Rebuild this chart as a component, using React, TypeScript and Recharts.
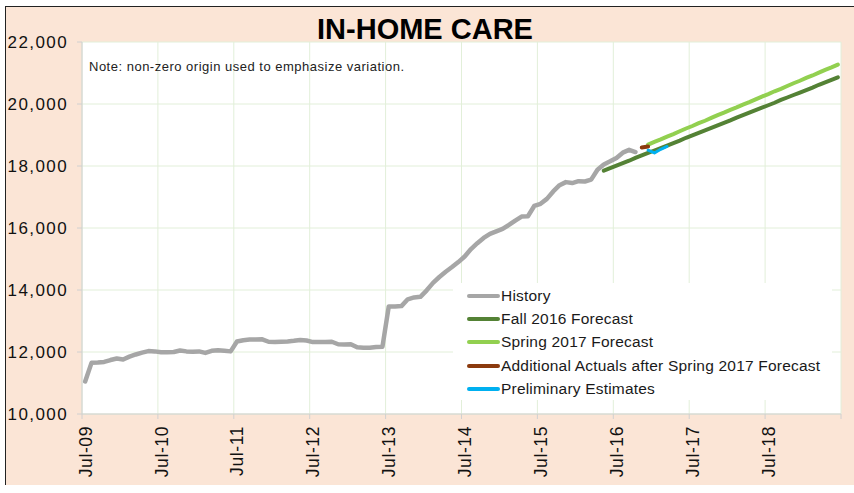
import { LineChart, Line, XAxis, YAxis, CartesianGrid, Legend } from 'recharts'

const FONT = '"Liberation Sans", Arial, sans-serif'

const yTicks = [10000, 12000, 14000, 16000, 18000, 20000, 22000]
const xTickLabels = ['Jul-09', 'Jul-10', 'Jul-11', 'Jul-12', 'Jul-13', 'Jul-14', 'Jul-15', 'Jul-16', 'Jul-17', 'Jul-18', '']
const xTicks = xTickLabels.map((_, i) => i * 12)

const seriesNames = [
  'History',
  'Fall 2016 Forecast',
  'Spring 2017 Forecast',
  'Additional Actuals after Spring 2017 Forecast',
  'Preliminary Estimates',
]

// monthly values, index 0 = Jul-09
const historyStart = 0
const history = [
  11050, 11650, 11660, 11680, 11740, 11790, 11760, 11850, 11920, 11980, 12030, 12020,
  11990, 11990, 12000, 12050, 12020, 12010, 12020, 11970, 12040, 12060, 12040, 12020,
  12340, 12380, 12400, 12400, 12410, 12330, 12320, 12330, 12340, 12360, 12390, 12370,
  12320, 12320, 12320, 12330, 12250, 12240, 12250, 12150, 12140, 12140, 12160, 12170,
  13470, 13470, 13480, 13700, 13760, 13780, 13990, 14230, 14420, 14590, 14740, 14900,
  15080, 15320, 15510, 15680, 15810, 15890, 15970, 16100, 16240, 16370, 16380, 16710,
  16780, 16940, 17180, 17380, 17480, 17450, 17510, 17500, 17560, 17880, 18050, 18150,
  18260, 18430, 18520, 18450,
]

const fallStart = 82
const fall2016 = [
  17850, 17930, 18010, 18090, 18170, 18260, 18340, 18420, 18500, 18580, 18660, 18740,
  18820, 18910, 18990, 19070, 19150, 19230, 19310, 19390, 19470, 19560, 19640, 19720,
  19800, 19880, 19960, 20040, 20130, 20210, 20290, 20370, 20450, 20530, 20620, 20700,
  20780, 20860,
]

const springStart = 89
const spring2017 = [
  18690, 18780, 18860, 18950, 19030, 19120, 19210, 19290, 19380, 19460, 19550, 19640,
  19720, 19810, 19890, 19980, 20060, 20150, 20240, 20320, 20410, 20490, 20580, 20670,
  20750, 20840, 20920, 21010, 21100, 21180, 21270,
]

const actualsStart = 88
const actuals = [18600, 18630]

const prelimStart = 89
const prelim = [18510, 18420, 18540, 18630]

const MONTHS = 120

const pick = (arr: number[], start: number, m: number) =>
  m >= start && m < start + arr.length ? arr[m - start] : null

const data = Array.from({ length: MONTHS }, (_, m) => ({
  t: m + 0.5,
  history: pick(history, historyStart, m),
  fall: pick(fall2016, fallStart, m),
  spring: pick(spring2017, springStart, m),
  actuals: pick(actuals, actualsStart, m),
  prelim: pick(prelim, prelimStart, m),
}))

function XTick({ x, y, payload }: any) {
  const label = xTickLabels[Math.round(payload.value / 12)]
  return (
    <text
      x={0}
      y={0}
      transform={`translate(${x},${y}) rotate(-90)`}
      textAnchor="end"
      dy="0.55em"
      fontSize={17.5}
      letterSpacing={0.6}
      fill="#111"
      fontFamily={FONT}
    >
      {label}
    </text>
  )
}

const renderLegend = (props: any) => {
  const items = [...(props.payload || [])].sort(
    (a: any, b: any) => seriesNames.indexOf(a.value) - seriesNames.indexOf(b.value),
  )
  return (
    <div
      style={{
        background: '#fff',
        width: 379,
        height: 117,
        padding: '1px 0 0 14px',
        boxSizing: 'border-box',
        fontFamily: FONT,
      }}
    >
      {items.map((item: any) => (
        <div key={item.value} style={{ display: 'flex', alignItems: 'center', height: 23.3 }}>
          <span style={{ display: 'inline-block', width: 33, height: 4, borderRadius: 2, background: item.color }} />
          <span style={{ fontSize: 15.5, letterSpacing: 0.2, color: '#1a1a1a', marginLeft: 1, whiteSpace: 'nowrap' }}>
            {item.value}
          </span>
        </div>
      ))}
    </div>
  )
}

export default function App() {
  return (
    <div style={{ position: 'absolute', left: 0, top: 0, width: 854, height: 493, background: '#fff' }}>
      <div
        style={{
          position: 'absolute',
          left: 5,
          top: 6,
          width: 849,
          height: 479,
          background: '#FBE5D6',
          borderTop: '1.5px solid #222',
          borderLeft: '1.5px solid #222',
          boxSizing: 'border-box',
        }}
      />
      <div style={{ position: 'absolute', left: 0, top: 0 }}>
        <LineChart width={854} height={493} data={data} margin={{ top: 42, right: 13, left: 0, bottom: 19 }}>
          <CartesianGrid stroke="#E2EFD9" strokeWidth={1} fill="#fff" fillOpacity={1} />
          <XAxis
            dataKey="t"
            type="number"
            domain={[0, MONTHS]}
            ticks={xTicks}
            interval={0}
            height={60}
            tickSize={5}
            tickMargin={7}
            stroke="#D0D0D0"
            tick={<XTick />}
          />
          <YAxis
            type="number"
            domain={[10000, 22000]}
            ticks={yTicks}
            interval={0}
            width={82}
            tickSize={5}
            tickMargin={9}
            stroke="#D0D0D0"
            tickFormatter={(v: number) => v.toLocaleString('en-US')}
            tick={{ fontSize: 17, fill: '#111', fontFamily: FONT, letterSpacing: 1.4 }}
          />
          <Legend
            layout="vertical"
            align="center"
            verticalAlign="middle"
            content={renderLegend}
            wrapperStyle={{ left: 453, top: 283, width: 379, height: 117 }}
          />
          <Line name={seriesNames[0]} dataKey="history" stroke="#A6A6A6" strokeWidth={4.5} dot={false} strokeLinecap="round" strokeLinejoin="round" isAnimationActive={false} />
          <Line name={seriesNames[1]} dataKey="fall" stroke="#548235" strokeWidth={4} dot={false} strokeLinecap="round" isAnimationActive={false} />
          <Line name={seriesNames[2]} dataKey="spring" stroke="#92D050" strokeWidth={4} dot={false} strokeLinecap="round" isAnimationActive={false} />
          <Line name={seriesNames[3]} dataKey="actuals" stroke="#8B3A0E" strokeWidth={4} dot={false} strokeLinecap="round" isAnimationActive={false} />
          <Line name={seriesNames[4]} dataKey="prelim" stroke="#00B0F0" strokeWidth={3} dot={false} strokeLinecap="round" strokeLinejoin="round" isAnimationActive={false} />
        </LineChart>
      </div>
      <div
        style={{
          position: 'absolute',
          left: 0,
          width: 850,
          top: 14.5,
          textAlign: 'center',
          fontFamily: FONT,
          fontWeight: 'bold',
          fontSize: 29,
          lineHeight: 1,
          color: '#000',
        }}
      >
        IN-HOME CARE
      </div>
      <div
        style={{
          position: 'absolute',
          left: 89,
          top: 59.5,
          fontFamily: FONT,
          fontSize: 13,
          letterSpacing: 0.5,
          lineHeight: 1,
          color: '#222',
          whiteSpace: 'nowrap',
        }}
      >
        Note: non-zero origin used to emphasize variation.
      </div>
    </div>
  )
}
